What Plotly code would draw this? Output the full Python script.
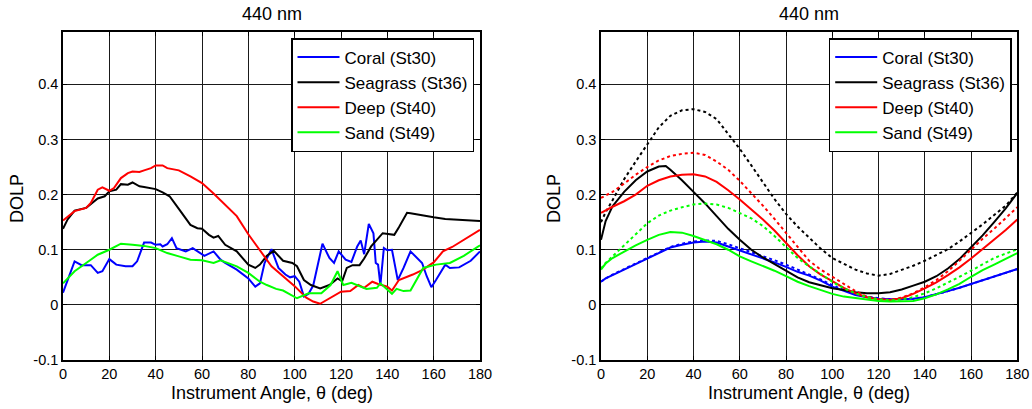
import plotly.graph_objects as go

# ---------------- Left panel data ----------------
theta_coral_l = [0, 2, 5, 8, 12, 15, 17, 20, 23, 27, 30, 32, 35, 38, 40, 42, 43, 45, 47, 49,
                 53, 56, 58, 61, 65, 68, 70, 75, 80, 83, 85, 87, 90, 93, 96, 98, 100, 102, 104,
                 106, 108, 112, 115, 117, 119, 122, 124.5, 127, 128.5, 130, 132, 134, 135, 136,
                 137, 138.5, 140, 142, 144.5, 147, 150, 155, 157, 159, 161, 165, 167, 171, 176, 180]
coral_l = [0.022, 0.045, 0.079, 0.072, 0.072, 0.058, 0.061, 0.083, 0.073, 0.070, 0.070, 0.079,
           0.113, 0.113, 0.109, 0.110, 0.106, 0.110, 0.121, 0.103, 0.097, 0.103, 0.097, 0.089,
           0.097, 0.082, 0.076, 0.064, 0.048, 0.033, 0.039, 0.076, 0.101, 0.067, 0.055, 0.050,
           0.052, 0.042, 0.015, 0.020, 0.035, 0.111, 0.085, 0.076, 0.097, 0.082, 0.078, 0.106,
           0.117, 0.092, 0.147, 0.130, 0.076, 0.073, 0.036, 0.103, 0.099, 0.100, 0.045, 0.067,
           0.097, 0.076, 0.052, 0.032, 0.045, 0.073, 0.067, 0.068, 0.080, 0.097]

theta_seagrass_l = [0, 2, 5, 10, 15, 18, 20, 23, 25, 28, 30, 33, 35, 40, 43, 46, 50, 55, 58, 60,
                    63, 65, 67, 70, 75, 80, 83, 85, 88, 91, 95, 99, 101, 104, 107, 111, 115, 118.5,
                    120.5, 122.5, 125, 128, 130, 133, 138, 140, 143, 145, 148.5, 150, 155, 160, 165,
                    170, 175, 180]
seagrass_l = [0.138, 0.155, 0.171, 0.176, 0.193, 0.197, 0.206, 0.209, 0.219, 0.218, 0.222, 0.215,
              0.214, 0.210, 0.204, 0.197, 0.174, 0.145, 0.139, 0.138, 0.127, 0.122, 0.125, 0.109,
              0.097, 0.073, 0.067, 0.073, 0.089, 0.098, 0.080, 0.076, 0.070, 0.045, 0.036, 0.030,
              0.036, 0.048, 0.043, 0.067, 0.072, 0.072, 0.084, 0.106, 0.130, 0.129, 0.127, 0.141,
              0.167, 0.166, 0.162, 0.159, 0.156, 0.155, 0.153, 0.152]

theta_deep_l = [0, 5, 10, 12, 15, 17, 20, 22, 25, 28, 30, 33, 35, 38, 40, 43, 45, 50, 55, 60, 65,
                70, 75, 80, 85, 88, 90, 95, 100, 105, 108, 111, 115, 120, 124, 127.5, 130, 133.5,
                136, 140, 142, 145, 151, 155, 160, 164, 168, 173, 180]
deep_l = [0.153, 0.170, 0.176, 0.185, 0.209, 0.213, 0.207, 0.212, 0.230, 0.239, 0.242, 0.241,
          0.244, 0.248, 0.253, 0.253, 0.248, 0.244, 0.233, 0.221, 0.202, 0.182, 0.161, 0.128,
          0.098, 0.082, 0.070, 0.052, 0.034, 0.013, 0.006, 0.002, 0.012, 0.024, 0.025, 0.036,
          0.031, 0.042, 0.038, 0.033, 0.026, 0.045, 0.055, 0.063, 0.077, 0.097, 0.105, 0.118, 0.136]

theta_sand_l = [0, 5, 10, 15, 20, 25, 30, 35, 40, 45, 50, 55, 60, 65, 68, 70, 75, 80, 85, 88, 92,
                95, 101, 106, 111.5, 115.5, 118.5, 121, 124.5, 131, 135.5, 137, 142, 144, 147, 150,
                152.7, 155.5, 161, 167, 173, 180]
sand_l = [0.039, 0.061, 0.076, 0.091, 0.100, 0.111, 0.109, 0.107, 0.103, 0.094, 0.088, 0.082,
          0.081, 0.076, 0.081, 0.078, 0.070, 0.058, 0.042, 0.036, 0.029, 0.026, 0.012, 0.021,
          0.021, 0.036, 0.061, 0.036, 0.040, 0.029, 0.031, 0.039, 0.020, 0.029, 0.025, 0.026,
          0.045, 0.067, 0.073, 0.076, 0.089, 0.108]

# ---------------- Right panel data ----------------
theta_r = [0, 2, 5, 10, 15, 20, 25, 30, 35, 40, 45, 50, 55, 60, 65, 70, 75, 80, 85, 90, 95, 100,
           105, 110, 115, 120, 125, 130, 135, 140, 145, 150, 155, 160, 165, 170, 175, 180]
theta_seagrass_r = [0, 2, 5, 10, 15, 20, 25, 28, 30, 35, 40, 45, 50, 55, 60, 65, 70, 75, 80, 85,
                    90, 95, 100, 105, 110, 115, 120, 125, 130, 135, 140, 145, 150, 155, 160, 165,
                    170, 175, 180]

coral_r = [0.042, 0.048, 0.054, 0.064, 0.074, 0.085, 0.095, 0.104, 0.109, 0.113, 0.115, 0.113,
           0.106, 0.099, 0.092, 0.085, 0.077, 0.069, 0.060, 0.053, 0.044, 0.033, 0.025, 0.018,
           0.014, 0.011, 0.010, 0.010, 0.011, 0.014, 0.019, 0.025, 0.031, 0.038, 0.045, 0.052,
           0.058, 0.065]
coral_r_dot = [0.042, 0.048, 0.055, 0.065, 0.075, 0.086, 0.096, 0.105, 0.111, 0.115, 0.117, 0.116,
               0.110, 0.103, 0.096, 0.089, 0.081, 0.073, 0.064, 0.056, 0.046, 0.036, 0.027, 0.020,
               0.015, 0.012, 0.010, 0.010, 0.011, 0.014, 0.019, 0.025, 0.031, 0.038, 0.045, 0.052,
               0.058, 0.065]

seagrass_r = [0.118, 0.152, 0.179, 0.205, 0.226, 0.242, 0.251, 0.252, 0.245, 0.226, 0.205, 0.184,
              0.161, 0.138, 0.118, 0.100, 0.086, 0.074, 0.062, 0.050, 0.041, 0.035, 0.030, 0.027,
              0.023, 0.021, 0.021, 0.023, 0.028, 0.035, 0.042, 0.052, 0.066, 0.083, 0.104, 0.126,
              0.150, 0.175, 0.203]
seagrass_r_dot = [0.150, 0.168, 0.190, 0.228, 0.260, 0.290, 0.322, 0.343, 0.353, 0.355, 0.350,
                  0.337, 0.310, 0.283, 0.253, 0.222, 0.192, 0.165, 0.142, 0.122, 0.102, 0.085,
                  0.074, 0.064, 0.057, 0.053, 0.056, 0.063, 0.071, 0.080, 0.090, 0.101, 0.115,
                  0.130, 0.146, 0.163, 0.180, 0.204]

deep_r = [0.167, 0.172, 0.178, 0.188, 0.200, 0.216, 0.226, 0.233, 0.236, 0.237, 0.233, 0.223,
          0.208, 0.191, 0.173, 0.155, 0.135, 0.112, 0.090, 0.070, 0.055, 0.043, 0.031, 0.021,
          0.014, 0.010, 0.009, 0.012, 0.020, 0.030, 0.041, 0.054, 0.068, 0.084, 0.101, 0.118,
          0.136, 0.155]
deep_r_dot = [0.194, 0.198, 0.205, 0.220, 0.236, 0.250, 0.262, 0.270, 0.274, 0.276, 0.272, 0.260,
              0.245, 0.225, 0.203, 0.180, 0.156, 0.130, 0.104, 0.080, 0.064, 0.051, 0.037, 0.025,
              0.015, 0.010, 0.009, 0.013, 0.021, 0.032, 0.045, 0.061, 0.080, 0.100, 0.120, 0.138,
              0.158, 0.177]

sand_r = [0.064, 0.075, 0.085, 0.097, 0.108, 0.118, 0.127, 0.132, 0.131, 0.125, 0.118, 0.110,
          0.100, 0.088, 0.079, 0.071, 0.062, 0.052, 0.042, 0.034, 0.027, 0.020, 0.015, 0.012,
          0.009, 0.007, 0.006, 0.006, 0.007, 0.012, 0.019, 0.028, 0.038, 0.051, 0.063, 0.073,
          0.084, 0.094]
sand_r_dot = [0.066, 0.076, 0.088, 0.108, 0.128, 0.148, 0.162, 0.171, 0.177, 0.182, 0.184, 0.182,
              0.176, 0.167, 0.157, 0.143, 0.125, 0.105, 0.085, 0.070, 0.056, 0.042, 0.030, 0.021,
              0.014, 0.010, 0.008, 0.010, 0.014, 0.021, 0.030, 0.040, 0.051, 0.062, 0.074, 0.085,
              0.093, 0.101]

names = ["Coral (St30)", "Seagrass (St36)", "Deep (St40)", "Sand (St49)"]
colors = ["#0000FF", "#000000", "#FF0000", "#00FF00"]
x_ticks = [0, 20, 40, 60, 80, 100, 120, 140, 160, 180]
y_ticks = [-0.1, 0, 0.1, 0.2, 0.3, 0.4]
y_ticktext = ["-0.1", "0", "0.1", "0.2", "0.3", "0.4"]
panel_title = "440 nm"
x_title = "Instrument Angle, θ (deg)"
y_title = "DOLP"

FONT = "Liberation Sans, Arial, sans-serif"
W, H = 1032, 409

fig = go.Figure()

left_series = [(theta_coral_l, coral_l), (theta_seagrass_l, seagrass_l),
               (theta_deep_l, deep_l), (theta_sand_l, sand_l)]
for (tx, ty), nm, col in zip(left_series, names, colors):
    fig.add_trace(go.Scatter(x=tx, y=ty, mode="lines", name=nm,
                             line=dict(color=col, width=2),
                             xaxis="x", yaxis="y", legend="legend"))

right_solid = [(theta_r, coral_r), (theta_seagrass_r, seagrass_r),
               (theta_r, deep_r), (theta_r, sand_r)]
right_dot = [coral_r_dot, seagrass_r_dot, deep_r_dot, sand_r_dot]
for (tx, ty), yd, nm, col in zip(right_solid, right_dot, names, colors):
    fig.add_trace(go.Scatter(x=tx, y=ty, mode="lines", name=nm,
                             line=dict(color=col, width=2),
                             xaxis="x2", yaxis="y2", legend="legend2"))
    fig.add_trace(go.Scatter(x=theta_r, y=yd, mode="lines", name=nm, showlegend=False,
                             line=dict(color=col, width=2, dash="dot"),
                             xaxis="x2", yaxis="y2"))

ydom = [(H - 360) / H, (H - 32) / H]
xdom_l = [63 / W, 480 / W]
xdom_r = [601 / W, 1017.3 / W]

axis_common = dict(showgrid=True, gridcolor="#1a1a1a", gridwidth=1,
                   showline=True, linecolor="black", linewidth=1.5, mirror="ticks",
                   ticks="inside", ticklen=4, tickcolor="black", zeroline=False,
                   tickfont=dict(family=FONT, size=14.5, color="black"), automargin=False)

legend_common = dict(yanchor="top", xanchor="right", bgcolor="white", bordercolor="black",
                     borderwidth=1.5, itemwidth=42, tracegroupgap=0,
                     font=dict(family=FONT, size=17, color="black"))

fig.update_layout(
    width=W, height=H,
    margin=dict(l=0, r=0, t=0, b=0),
    paper_bgcolor="white", plot_bgcolor="white",
    font=dict(family=FONT, color="black"),
    xaxis=dict(domain=xdom_l, range=[0, 180], tickvals=x_ticks, anchor="y", **axis_common),
    yaxis=dict(domain=ydom, range=[-0.1, 0.495], tickvals=y_ticks, ticktext=y_ticktext,
               anchor="x", **axis_common),
    xaxis2=dict(domain=xdom_r, range=[0, 180], tickvals=x_ticks, anchor="y2", **axis_common),
    yaxis2=dict(domain=ydom, range=[-0.1, 0.495], tickvals=y_ticks, ticktext=y_ticktext,
                anchor="x2", **axis_common),
    legend=dict(x=474 / W, y=(H - 38) / H, **legend_common),
    legend2=dict(x=1011.7 / W, y=(H - 38) / H, **legend_common),
    showlegend=True,
)

annots = []
for cx, lx in [((63 + 480) / 2, 17), ((601 + 1017.3) / 2, 554)]:
    annots.append(dict(text=panel_title, x=cx / W, y=(H - 14) / H, xref="paper", yref="paper",
                       showarrow=False, font=dict(family=FONT, size=18, color="black"),
                       xanchor="center", yanchor="middle"))
    annots.append(dict(text=x_title, x=cx / W, y=(H - 393) / H, xref="paper", yref="paper",
                       showarrow=False, font=dict(family=FONT, size=18, color="black"),
                       xanchor="center", yanchor="middle"))
    annots.append(dict(text=y_title, x=lx / W, y=(H - 199) / H, xref="paper", yref="paper",
                       showarrow=False, textangle=-90, font=dict(family=FONT, size=18, color="black"),
                       xanchor="center", yanchor="middle"))
fig.update_layout(annotations=annots)

fig.write_html("out.html")
